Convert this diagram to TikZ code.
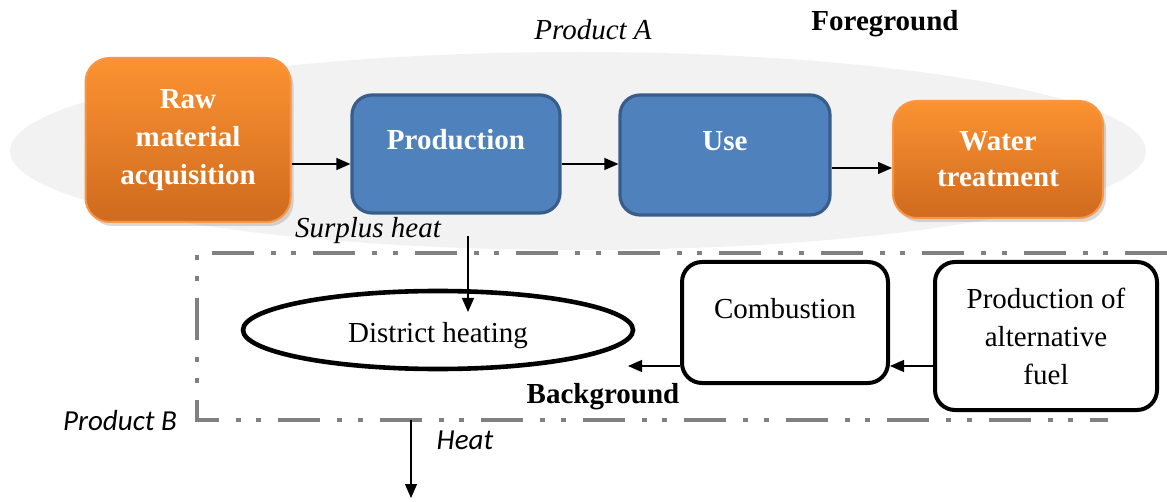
\documentclass[tikz,border=0pt]{standalone}
\usepackage{fontspec}
\setmainfont{Liberation Serif}
\newfontfamily\calfont{Carlito}
\usetikzlibrary{shapes}
\usetikzlibrary{shadows}
\usetikzlibrary{arrows.meta}
\definecolor{orangetop}{HTML}{FB9331}
\definecolor{orangebot}{HTML}{CF6A1F}
\definecolor{orangeline}{HTML}{F79646}
\definecolor{bluefill}{HTML}{4F81BD}
\definecolor{blueline}{HTML}{385D8A}
\definecolor{fgback}{HTML}{F2F2F2}
\definecolor{bgline}{HTML}{808080}
\tikzset{
    mynodeo/.style = {rectangle, rounded corners=12pt, draw=orangeline, line width=1pt, top color=orangetop, bottom color=orangebot, drop shadow={opacity=0.3,shadow xshift=1.5pt,shadow yshift=-2pt}, align=center, inner sep=0pt, font=\fontsize{14.5}{19}\selectfont\bfseries, text=white},
    mynodeb/.style = {rectangle, rounded corners=10pt, draw=blueline, line width=1.6pt, fill=bluefill, align=center, inner sep=0pt, font=\fontsize{14.5}{19}\selectfont\bfseries, text=white},
    mynodew/.style = {rectangle, rounded corners=10pt, draw=black, line width=2pt, fill=white, align=center, inner sep=0pt, text=black},
    mynodee/.style = {ellipse, draw=black, line width=2.3pt, fill=white, inner sep=0pt, text=black},
    textup/.style = {text height=10pt, text depth=14pt},
    edgen/.style = {-{Triangle[length=7pt,width=6pt]}, line width=0.6pt, black},
    edgebg/.style = {bgline, line width=2.2pt, dash pattern=on 21pt off 8.5pt on 2.5pt off 7.75pt on 2.5pt off 8.5pt}
}
\begin{document}
\begin{tikzpicture}[x=0.5pt, y=-0.5pt, font=\fontsize{14.5}{19}\selectfont]
  \useasboundingbox (0,0) rectangle (1167,502);
  % foreground
  \fill[fgback] (578,151) ellipse [x radius=568, y radius=99];
  % background
  \draw[edgebg] (1167,253) -- (197,253) -- (197,420) -- (1108,420);
  \node[mynodeo, minimum width=102.5pt, minimum height=82pt] (raw) at (188,140) {Raw\\material\\acquisition};
  \node[mynodeb, textup, minimum width=104pt, minimum height=59pt] (prod) at (456,154) {Production};
  \node[mynodeb, textup, minimum width=105pt, minimum height=60pt] (use) at (725,155) {Use};
  \node[mynodeo, minimum width=105pt, minimum height=58.5pt] (water) at (998,159.5) {Water\\[-1pt]treatment};
  \node[mynodee, minimum width=195pt, minimum height=39pt, text height=16pt, text depth=3pt] (dh) at (438,330) {District heating};
  \node[mynodew, textup, minimum width=103pt, minimum height=60.5pt] (comb) at (785,322.5) {Combustion};
  \node[mynodew, minimum width=111pt, minimum height=74pt] (alt) at (1046,336) {Production of\\alternative\\fuel};
  \node (proda) at (593,30) {\itshape Product A};
  \node (fg) at (885,24) {\bfseries Foreground};
  \node (surplus) at (368,231) {\itshape Surplus heat};
  \node (bg) at (603,397) {\bfseries Background};
  \node (prodb) at (120,421) {\calfont\itshape Product B};
  \node (heat) at (465,440) {\calfont\itshape Heat};
  \coordinate (shin) at (468,236);
  \coordinate (shout) at (468,312);
  \coordinate (dhin) at (628,366);
  \coordinate (heatin) at (411,420);
  \coordinate (heatout) at (411,498);
  \draw[edgen] ([yshift=-12pt]raw.east) -- ([yshift=-12pt]raw.east -| prod.west);
  \draw[edgen] ([yshift=-5pt]prod.east) -- ([yshift=-5pt]prod.east -| use.west);
  \draw[edgen] ([yshift=-6.5pt]use.east) -- ([yshift=-6.5pt]use.east -| water.west);
  \draw[edgen] ([yshift=-15pt]alt.west) -- ([yshift=-15pt]alt.west -| comb.east);
  \draw[edgen] ([yshift=-21.75pt]comb.west) -- (dhin);
  \draw[edgen] (shin) -- (shout);
  \draw[edgen] (heatin) -- (heatout);
\end{tikzpicture}
\end{document}
